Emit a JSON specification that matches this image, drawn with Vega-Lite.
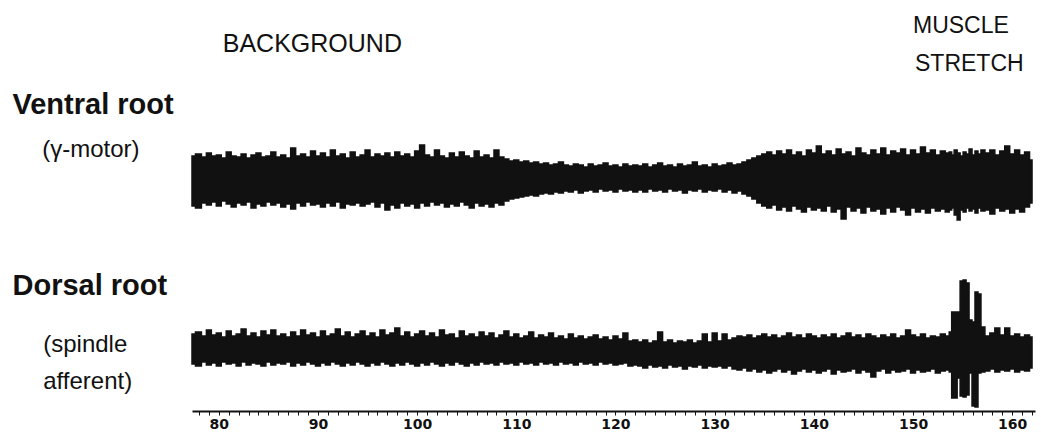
{
  "$schema": "https://vega.github.io/schema/vega-lite/v6.json",
  "width": 843,
  "height": 411,
  "autosize": {"type": "none"},
  "padding": {"left": 192, "right": 6, "top": 0, "bottom": 23},
  "background": "white",
  "config": {"view": {"stroke": null}},
  "datasets": {
    "traces": [
      {"x":77.3,"vt":156,"vb":206,"dt":334,"db":364},
      {"x":78.0,"vt":154,"vb":208,"dt":332,"db":366},
      {"x":78.5,"vt":157,"vb":203,"dt":336,"db":362},
      {"x":79.0,"vt":153,"vb":205,"dt":330,"db":365},
      {"x":79.5,"vt":156,"vb":202,"dt":335,"db":363},
      {"x":80.0,"vt":155,"vb":206,"dt":333,"db":366},
      {"x":80.5,"vt":158,"vb":201,"dt":337,"db":362},
      {"x":81.0,"vt":152,"vb":204,"dt":331,"db":364},
      {"x":81.5,"vt":156,"vb":207,"dt":336,"db":363},
      {"x":82.0,"vt":157,"vb":203,"dt":334,"db":366},
      {"x":82.5,"vt":154,"vb":205,"dt":329,"db":362},
      {"x":83.0,"vt":158,"vb":202,"dt":336,"db":365},
      {"x":83.5,"vt":155,"vb":208,"dt":333,"db":363},
      {"x":84.0,"vt":153,"vb":204,"dt":337,"db":364},
      {"x":84.5,"vt":157,"vb":206,"dt":331,"db":366},
      {"x":85.0,"vt":156,"vb":202,"dt":335,"db":362},
      {"x":85.5,"vt":152,"vb":205,"dt":330,"db":365},
      {"x":86.0,"vt":157,"vb":203,"dt":336,"db":363},
      {"x":86.5,"vt":155,"vb":207,"dt":334,"db":364},
      {"x":87.0,"vt":158,"vb":204,"dt":337,"db":362},
      {"x":87.5,"vt":148,"vb":209,"dt":332,"db":366},
      {"x":88.0,"vt":156,"vb":203,"dt":336,"db":363},
      {"x":88.5,"vt":154,"vb":206,"dt":330,"db":365},
      {"x":89.0,"vt":157,"vb":202,"dt":335,"db":362},
      {"x":89.5,"vt":151,"vb":205,"dt":333,"db":364},
      {"x":90.0,"vt":156,"vb":204,"dt":337,"db":366},
      {"x":90.5,"vt":153,"vb":207,"dt":331,"db":363},
      {"x":91.0,"vt":157,"vb":203,"dt":336,"db":365},
      {"x":91.5,"vt":150,"vb":206,"dt":334,"db":362},
      {"x":92.0,"vt":156,"vb":202,"dt":329,"db":364},
      {"x":92.5,"vt":154,"vb":208,"dt":336,"db":366},
      {"x":93.0,"vt":158,"vb":204,"dt":332,"db":363},
      {"x":93.5,"vt":152,"vb":205,"dt":337,"db":365},
      {"x":94.0,"vt":157,"vb":203,"dt":334,"db":362},
      {"x":94.5,"vt":155,"vb":206,"dt":331,"db":364},
      {"x":95.0,"vt":150,"vb":204,"dt":336,"db":366},
      {"x":95.5,"vt":157,"vb":202,"dt":333,"db":363},
      {"x":96.0,"vt":154,"vb":207,"dt":337,"db":365},
      {"x":96.5,"vt":156,"vb":203,"dt":330,"db":362},
      {"x":97.0,"vt":153,"vb":210,"dt":335,"db":364},
      {"x":97.5,"vt":157,"vb":205,"dt":333,"db":366},
      {"x":98.0,"vt":152,"vb":208,"dt":328,"db":363},
      {"x":98.5,"vt":156,"vb":203,"dt":336,"db":365},
      {"x":99.0,"vt":154,"vb":206,"dt":332,"db":362},
      {"x":99.5,"vt":157,"vb":204,"dt":337,"db":364},
      {"x":100.0,"vt":151,"vb":208,"dt":334,"db":366},
      {"x":100.5,"vt":145,"vb":203,"dt":331,"db":363},
      {"x":101.0,"vt":155,"vb":206,"dt":336,"db":365},
      {"x":101.5,"vt":157,"vb":202,"dt":333,"db":362},
      {"x":102.0,"vt":150,"vb":205,"dt":337,"db":364},
      {"x":102.5,"vt":156,"vb":203,"dt":330,"db":366},
      {"x":103.0,"vt":158,"vb":207,"dt":335,"db":363},
      {"x":103.5,"vt":153,"vb":204,"dt":334,"db":365},
      {"x":104.0,"vt":157,"vb":206,"dt":338,"db":362},
      {"x":104.5,"vt":152,"vb":202,"dt":331,"db":364},
      {"x":105.0,"vt":156,"vb":205,"dt":336,"db":366},
      {"x":105.5,"vt":158,"vb":208,"dt":334,"db":363},
      {"x":106.0,"vt":151,"vb":203,"dt":337,"db":365},
      {"x":106.5,"vt":157,"vb":206,"dt":332,"db":362},
      {"x":107.0,"vt":155,"vb":204,"dt":336,"db":364},
      {"x":107.5,"vt":158,"vb":207,"dt":333,"db":363},
      {"x":108.0,"vt":150,"vb":203,"dt":338,"db":365},
      {"x":108.5,"vt":157,"vb":205,"dt":335,"db":362},
      {"x":109.0,"vt":159,"vb":201,"dt":331,"db":364},
      {"x":109.5,"vt":161,"vb":199,"dt":337,"db":363},
      {"x":110.0,"vt":160,"vb":198,"dt":334,"db":365},
      {"x":110.5,"vt":162,"vb":197,"dt":338,"db":362},
      {"x":111.0,"vt":161,"vb":196,"dt":336,"db":364},
      {"x":111.5,"vt":163,"vb":195,"dt":332,"db":363},
      {"x":112.0,"vt":162,"vb":196,"dt":338,"db":365},
      {"x":112.5,"vt":164,"vb":194,"dt":335,"db":362},
      {"x":113.0,"vt":163,"vb":193,"dt":337,"db":364},
      {"x":113.5,"vt":165,"vb":194,"dt":333,"db":363},
      {"x":114.0,"vt":164,"vb":192,"dt":338,"db":365},
      {"x":114.5,"vt":162,"vb":193,"dt":336,"db":362},
      {"x":115.0,"vt":165,"vb":191,"dt":339,"db":364},
      {"x":115.5,"vt":166,"vb":192,"dt":334,"db":363},
      {"x":116.0,"vt":164,"vb":190,"dt":338,"db":365},
      {"x":116.5,"vt":165,"vb":193,"dt":336,"db":362},
      {"x":117.0,"vt":167,"vb":191,"dt":339,"db":364},
      {"x":117.5,"vt":164,"vb":190,"dt":337,"db":363},
      {"x":118.0,"vt":166,"vb":192,"dt":335,"db":365},
      {"x":118.5,"vt":165,"vb":189,"dt":339,"db":362},
      {"x":119.0,"vt":163,"vb":191,"dt":337,"db":364},
      {"x":119.5,"vt":166,"vb":190,"dt":340,"db":363},
      {"x":120.0,"vt":165,"vb":192,"dt":336,"db":365},
      {"x":120.5,"vt":167,"vb":189,"dt":339,"db":364},
      {"x":121.0,"vt":164,"vb":191,"dt":333,"db":363},
      {"x":121.5,"vt":166,"vb":190,"dt":341,"db":366},
      {"x":122.0,"vt":165,"vb":192,"dt":340,"db":365},
      {"x":122.5,"vt":166,"vb":190,"dt":342,"db":366},
      {"x":123.0,"vt":164,"vb":192,"dt":340,"db":368},
      {"x":123.5,"vt":167,"vb":189,"dt":343,"db":365},
      {"x":124.0,"vt":165,"vb":191,"dt":341,"db":367},
      {"x":124.5,"vt":163,"vb":190,"dt":332,"db":366},
      {"x":125.0,"vt":166,"vb":192,"dt":342,"db":368},
      {"x":125.5,"vt":165,"vb":189,"dt":340,"db":365},
      {"x":126.0,"vt":167,"vb":191,"dt":343,"db":367},
      {"x":126.5,"vt":164,"vb":190,"dt":341,"db":366},
      {"x":127.0,"vt":166,"vb":193,"dt":342,"db":369},
      {"x":127.5,"vt":165,"vb":190,"dt":340,"db":366},
      {"x":128.0,"vt":162,"vb":191,"dt":343,"db":367},
      {"x":128.5,"vt":166,"vb":189,"dt":341,"db":365},
      {"x":129.0,"vt":165,"vb":192,"dt":334,"db":368},
      {"x":129.5,"vt":167,"vb":190,"dt":342,"db":366},
      {"x":130.0,"vt":164,"vb":191,"dt":333,"db":367},
      {"x":130.5,"vt":166,"vb":189,"dt":341,"db":366},
      {"x":131.0,"vt":165,"vb":192,"dt":334,"db":368},
      {"x":131.5,"vt":163,"vb":190,"dt":340,"db":366},
      {"x":132.0,"vt":165,"vb":193,"dt":338,"db":369},
      {"x":132.5,"vt":164,"vb":191,"dt":336,"db":370},
      {"x":133.0,"vt":162,"vb":194,"dt":337,"db":368},
      {"x":133.5,"vt":160,"vb":196,"dt":335,"db":371},
      {"x":134.0,"vt":158,"vb":199,"dt":338,"db":369},
      {"x":134.5,"vt":156,"vb":203,"dt":336,"db":372},
      {"x":135.0,"vt":154,"vb":206,"dt":334,"db":370},
      {"x":135.5,"vt":152,"vb":208,"dt":337,"db":373},
      {"x":136.0,"vt":155,"vb":205,"dt":335,"db":371},
      {"x":136.5,"vt":151,"vb":210,"dt":338,"db":369},
      {"x":137.0,"vt":154,"vb":207,"dt":336,"db":372},
      {"x":137.5,"vt":150,"vb":211,"dt":333,"db":370},
      {"x":138.0,"vt":155,"vb":206,"dt":337,"db":374},
      {"x":138.5,"vt":152,"vb":209,"dt":335,"db":371},
      {"x":139.0,"vt":156,"vb":212,"dt":338,"db":369},
      {"x":139.5,"vt":150,"vb":207,"dt":334,"db":372},
      {"x":140.0,"vt":153,"vb":210,"dt":336,"db":370},
      {"x":140.5,"vt":146,"vb":208,"dt":338,"db":373},
      {"x":141.0,"vt":154,"vb":211,"dt":335,"db":371},
      {"x":141.5,"vt":151,"vb":206,"dt":337,"db":369},
      {"x":142.0,"vt":155,"vb":212,"dt":334,"db":374},
      {"x":142.5,"vt":149,"vb":209,"dt":338,"db":370},
      {"x":143.0,"vt":154,"vb":219,"dt":336,"db":372},
      {"x":143.5,"vt":152,"vb":207,"dt":333,"db":371},
      {"x":144.0,"vt":156,"vb":211,"dt":337,"db":369},
      {"x":144.5,"vt":148,"vb":208,"dt":335,"db":373},
      {"x":145.0,"vt":153,"vb":213,"dt":338,"db":370},
      {"x":145.5,"vt":155,"vb":207,"dt":334,"db":372},
      {"x":146.0,"vt":150,"vb":211,"dt":336,"db":377},
      {"x":146.5,"vt":154,"vb":209,"dt":338,"db":371},
      {"x":147.0,"vt":148,"vb":214,"dt":335,"db":369},
      {"x":147.5,"vt":155,"vb":208,"dt":337,"db":373},
      {"x":148.0,"vt":151,"vb":212,"dt":334,"db":370},
      {"x":148.5,"vt":153,"vb":207,"dt":338,"db":372},
      {"x":149.0,"vt":149,"vb":210,"dt":336,"db":371},
      {"x":149.5,"vt":155,"vb":215,"dt":330,"db":369},
      {"x":150.0,"vt":150,"vb":208,"dt":335,"db":373},
      {"x":150.5,"vt":154,"vb":212,"dt":337,"db":370},
      {"x":151.0,"vt":147,"vb":209,"dt":334,"db":372},
      {"x":151.5,"vt":153,"vb":213,"dt":338,"db":371},
      {"x":152.0,"vt":150,"vb":208,"dt":336,"db":369},
      {"x":152.5,"vt":155,"vb":211,"dt":337,"db":373},
      {"x":153.0,"vt":151,"vb":209,"dt":334,"db":371},
      {"x":153.5,"vt":153,"vb":212,"dt":336,"db":370},
      {"x":153.8,"vt":152,"vb":210,"dt":332,"db":372},
      {"x":154.0,"vt":155,"vb":208,"dt":312,"db":398},
      {"x":154.3,"vt":150,"vb":215,"dt":312,"db":398},
      {"x":154.6,"vt":153,"vb":220,"dt":312,"db":378},
      {"x":154.9,"vt":156,"vb":210,"dt":281,"db":396},
      {"x":155.2,"vt":152,"vb":212,"dt":280,"db":397},
      {"x":155.5,"vt":154,"vb":208,"dt":283,"db":395},
      {"x":155.8,"vt":149,"vb":211,"dt":320,"db":373},
      {"x":156.1,"vt":155,"vb":209,"dt":322,"db":406},
      {"x":156.4,"vt":151,"vb":213,"dt":292,"db":407},
      {"x":156.7,"vt":154,"vb":208,"dt":294,"db":373},
      {"x":157.0,"vt":150,"vb":211,"dt":327,"db":372},
      {"x":157.5,"vt":153,"vb":210,"dt":336,"db":371},
      {"x":158.0,"vt":150,"vb":214,"dt":333,"db":369},
      {"x":158.5,"vt":155,"vb":208,"dt":328,"db":372},
      {"x":159.0,"vt":151,"vb":211,"dt":335,"db":370},
      {"x":159.5,"vt":146,"vb":209,"dt":328,"db":371},
      {"x":160.0,"vt":154,"vb":213,"dt":336,"db":369},
      {"x":160.5,"vt":150,"vb":209,"dt":334,"db":372},
      {"x":161.0,"vt":155,"vb":212,"dt":337,"db":370},
      {"x":161.5,"vt":152,"vb":207,"dt":335,"db":371},
      {"x":162.0,"vt":160,"vb":203,"dt":337,"db":368}
    ],
    "titles": [
      {"x": 59.2, "y": 114, "label": "Ventral root"},
      {"x": 59.2, "y": 295, "label": "Dorsal root"}
    ],
    "notes": [
      {"x": 62.2, "y": 157, "label": "(γ-motor)"},
      {"x": 62.3, "y": 352, "label": "(spindle"},
      {"x": 62.3, "y": 389, "label": "afferent)"}
    ],
    "background": [
      {"x": 80.4, "y": 52, "label": "BACKGROUND"}
    ],
    "headers": [
      {"x": 150.0, "y": 33, "label": "MUSCLE"},
      {"x": 150.2, "y": 71, "label": "STRETCH"}
    ]
  },
  "encoding": {
    "x": {
      "field": "x",
      "type": "quantitative",
      "scale": {"domain": [77.3, 162.3], "nice": false, "zero": false},
      "axis": {
        "title": null,
        "grid": false,
        "values": [78,79,80,81,82,83,84,85,86,87,88,89,90,91,92,93,94,95,96,97,98,99,100,101,102,103,104,105,106,107,108,109,110,111,112,113,114,115,116,117,118,119,120,121,122,123,124,125,126,127,128,129,130,131,132,133,134,135,136,137,138,139,140,141,142,143,144,145,146,147,148,149,150,151,152,153,154,155,156,157,158,159,160,161,162],
        "labelExpr": "datum.value % 10 === 0 ? datum.label : ''",
        "labelOverlap": false,
        "labelBound": false,
        "labelFlush": false,
        "domainColor": "#111",
        "domainWidth": 2,
        "tickColor": "#111",
        "tickWidth": 1,
        "tickSize": 4,
        "labelPadding": 2,
        "labelFont": "DejaVu Sans",
        "labelFontWeight": "bold",
        "labelFontSize": 14,
        "labelColor": "#111"
      }
    }
  },
  "layer": [
    {
      "data": {"name": "traces"},
      "mark": {"type": "area", "interpolate": "step", "color": "#111", "stroke": "#111", "strokeWidth": 1.5},
      "encoding": {
        "y": {"field": "vt", "type": "quantitative", "scale": {"domain": [0, 411], "reverse": true, "nice": false, "zero": false}, "axis": null},
        "y2": {"field": "vb"}
      }
    },
    {
      "data": {"name": "traces"},
      "mark": {"type": "area", "interpolate": "step", "color": "#111", "stroke": "#111", "strokeWidth": 1.5},
      "encoding": {
        "y": {"field": "dt", "type": "quantitative", "scale": {"domain": [0, 411], "reverse": true, "nice": false, "zero": false}, "axis": null},
        "y2": {"field": "db"}
      }
    },
    {
      "data": {"name": "titles"},
      "mark": {"type": "text", "align": "left", "baseline": "alphabetic", "font": "Liberation Sans", "fontWeight": "bold", "fontSize": 29, "color": "#111"},
      "encoding": {
        "y": {"field": "y", "type": "quantitative", "scale": {"domain": [0, 411], "reverse": true, "nice": false, "zero": false}, "axis": null},
        "text": {"field": "label"}
      }
    },
    {
      "data": {"name": "notes"},
      "mark": {"type": "text", "align": "left", "baseline": "alphabetic", "font": "Liberation Sans", "fontSize": 24, "color": "#111"},
      "encoding": {
        "y": {"field": "y", "type": "quantitative", "scale": {"domain": [0, 411], "reverse": true, "nice": false, "zero": false}, "axis": null},
        "text": {"field": "label"}
      }
    },
    {
      "data": {"name": "background"},
      "mark": {"type": "text", "align": "left", "baseline": "alphabetic", "font": "Liberation Sans", "fontSize": 25, "color": "#111"},
      "encoding": {
        "y": {"field": "y", "type": "quantitative", "scale": {"domain": [0, 411], "reverse": true, "nice": false, "zero": false}, "axis": null},
        "text": {"field": "label"}
      }
    },
    {
      "data": {"name": "headers"},
      "mark": {"type": "text", "align": "left", "baseline": "alphabetic", "font": "Liberation Sans", "fontSize": 23, "color": "#111"},
      "encoding": {
        "y": {"field": "y", "type": "quantitative", "scale": {"domain": [0, 411], "reverse": true, "nice": false, "zero": false}, "axis": null},
        "text": {"field": "label"}
      }
    }
  ]
}
